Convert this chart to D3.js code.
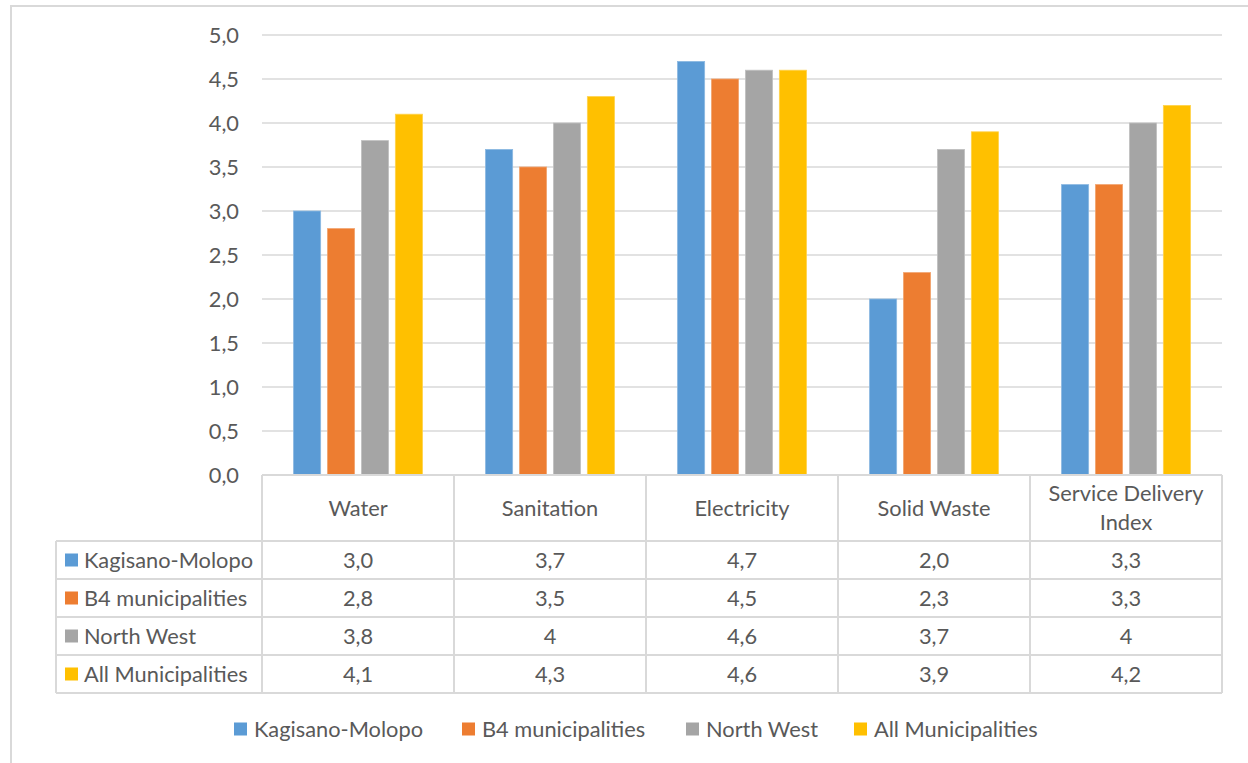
<!DOCTYPE html>
<html>
<head>
<meta charset="utf-8">
<script src="https://cdn.jsdelivr.net/npm/d3@7/dist/d3.min.js"></script>
<style>
  html, body { margin: 0; padding: 0; background: #fff; }
  svg { display: block; }
  text { font-family: Lato, "Open Sans", sans-serif; fill: #595959; }
</style>
</head>
<body>
<svg id="chart" width="1248" height="763"></svg>
<script>
// Service delivery scores by sector
const categories = ["Water", "Sanitation", "Electricity", "Solid Waste", "Service Delivery Index"];
const seriesNames = ["Kagisano-Molopo", "B4 municipalities", "North West", "All Municipalities"];
const kagisanoMolopo = [3.0, 3.7, 4.7, 2.0, 3.3];
const b4Municipalities = [2.8, 3.5, 4.5, 2.3, 3.3];
const northWest = [3.8, 4, 4.6, 3.7, 4];
const allMunicipalities = [4.1, 4.3, 4.6, 3.9, 4.2];
const seriesColors = ["#5b9bd5", "#ed7d31", "#a5a5a5", "#ffc000"];
const yTicks = [0, 0.5, 1, 1.5, 2, 2.5, 3, 3.5, 4, 4.5, 5];

const seriesValues = [kagisanoMolopo, b4Municipalities, northWest, allMunicipalities];

const locale = d3.formatLocale({ decimal: ",", thousands: " ", grouping: [3], currency: ["", ""] });
const fmtFixed = locale.format(".1f");
const fmtGeneral = locale.format(".2~f");
// first row keeps one decimal, the other rows use general number display
const rowFormats = [fmtFixed, fmtGeneral, fmtGeneral, fmtGeneral];

const svg = d3.select("#chart");
const gridColor = "#d9d9d9";
const FS = 21.8;

// outer chart frame
svg.append("rect")
  .attr("x", 11).attr("y", 6)
  .attr("width", 1260).attr("height", 800)
  .attr("fill", "none").attr("stroke", gridColor).attr("stroke-width", 2);

const plotLeft = 262, plotRight = 1222, plotTop = 35, plotBottom = 475;

const x = d3.scaleBand().domain(categories).range([plotLeft, plotRight]).padding(0);
const catW = x.bandwidth();
const gapSide = 31.5;
const xs = d3.scaleBand().domain(seriesNames).range([gapSide, catW - gapSide]).paddingInner(0.2).paddingOuter(0);
const y = d3.scaleLinear().domain([0, 5]).range([plotBottom, plotTop]);

// horizontal gridlines
svg.append("g")
  .selectAll("line")
  .data(yTicks.filter(d => d > 0))
  .join("line")
  .attr("x1", plotLeft).attr("x2", plotRight)
  .attr("y1", d => y(d)).attr("y2", d => y(d))
  .attr("stroke", gridColor).attr("stroke-width", 1.3);

// y-axis tick labels
svg.append("g")
  .selectAll("text")
  .data(yTicks)
  .join("text")
  .attr("x", 239).attr("y", d => y(d))
  .attr("dy", "0.35em")
  .attr("text-anchor", "end")
  .attr("font-size", FS)
  .text(d => fmtFixed(d));

// bars
const barData = [];
seriesNames.forEach((s, si) => {
  categories.forEach((c, ci) => {
    barData.push({ series: s, si, category: c, value: seriesValues[si][ci] });
  });
});
svg.append("g")
  .selectAll("rect")
  .data(barData)
  .join("rect")
  .attr("x", d => x(d.category) + xs(d.series))
  .attr("y", d => y(d.value))
  .attr("width", xs.bandwidth())
  .attr("height", d => y(0) - y(d.value))
  .attr("fill", d => seriesColors[d.si])
  .attr("stroke", d => d3.interpolateRgb(seriesColors[d.si], "#ffffff")(0.3))
  .attr("stroke-width", 0.8);

// data table
const headerH = 66, rowH = 38;
const tableLeft = 56;
const tableTop = plotBottom;
const rowsTop = tableTop + headerH;
const tableBottom = rowsTop + rowH * seriesNames.length;
const tbl = svg.append("g").attr("stroke", gridColor).attr("stroke-width", 2).attr("fill", "none");

// top line of the category header
tbl.append("line").attr("x1", plotLeft).attr("x2", plotRight).attr("y1", tableTop).attr("y2", tableTop);
// row separators
d3.range(seriesNames.length + 1).forEach(i => {
  const yy = rowsTop + i * rowH;
  tbl.append("line").attr("x1", tableLeft).attr("x2", plotRight).attr("y1", yy).attr("y2", yy);
});
// vertical separators
tbl.append("line").attr("x1", tableLeft).attr("x2", tableLeft).attr("y1", rowsTop).attr("y2", tableBottom);
categories.forEach(c => {
  const xx = x(c);
  tbl.append("line").attr("x1", xx).attr("x2", xx).attr("y1", tableTop).attr("y2", tableBottom);
});
tbl.append("line").attr("x1", plotRight).attr("x2", plotRight).attr("y1", tableTop).attr("y2", tableBottom);

// category headers, wrapped to the cell width
const headerG = svg.append("g");
categories.forEach(c => {
  const cx = x(c) + catW / 2;
  const t = headerG.append("text").attr("font-size", FS).attr("text-anchor", "middle");
  const words = c.split(" ");
  const lines = [];
  let line = [];
  const probe = headerG.append("text").attr("font-size", FS);
  words.forEach(w => {
    const trial = line.concat([w]).join(" ");
    probe.text(trial);
    if (line.length && probe.node().getComputedTextLength() > catW - 16) {
      lines.push(line.join(" "));
      line = [w];
    } else {
      line.push(w);
    }
  });
  lines.push(line.join(" "));
  probe.remove();
  const lh = 29;
  const cy = tableTop + headerH / 2;
  lines.forEach((ln, i) => {
    t.append("tspan")
      .attr("x", cx)
      .attr("y", cy + (i - (lines.length - 1) / 2) * lh)
      .attr("dy", "0.35em")
      .text(ln);
  });
});

// row labels with colour keys, and the values
const rowsG = svg.append("g");
seriesNames.forEach((s, si) => {
  const cy = rowsTop + si * rowH + rowH / 2;
  rowsG.append("rect")
    .attr("x", 65).attr("y", cy - 6.5)
    .attr("width", 13).attr("height", 13)
    .attr("fill", seriesColors[si]);
  rowsG.append("text")
    .attr("x", 84).attr("y", cy).attr("dy", "0.35em")
    .attr("font-size", FS)
    .text(s);
  categories.forEach((c, ci) => {
    rowsG.append("text")
      .attr("x", x(c) + catW / 2).attr("y", cy).attr("dy", "0.35em")
      .attr("text-anchor", "middle")
      .attr("font-size", FS)
      .text(rowFormats[si](seriesValues[si][ci]));
  });
});

// legend
const legendY = 729;
const legendStarts = [234, 462, 686, 854];
const legendG = svg.append("g");
seriesNames.forEach((s, si) => {
  const lx = legendStarts[si];
  legendG.append("rect")
    .attr("x", lx).attr("y", legendY - 6.5)
    .attr("width", 13).attr("height", 13)
    .attr("fill", seriesColors[si]);
  legendG.append("text")
    .attr("x", lx + 20).attr("y", legendY).attr("dy", "0.35em")
    .attr("font-size", FS)
    .text(s);
});
</script>
</body>
</html>
